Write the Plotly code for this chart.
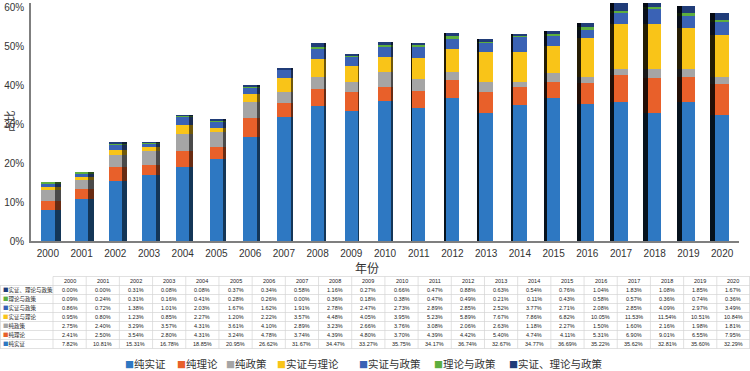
import plotly.graph_objects as go

years = [str(y) for y in range(2000, 2021)]

series_names = ["纯实证", "纯理论", "纯政策", "实证与理论", "实证与政策", "理论与政策", "实证、理论与政策"]

pure_empirical = [7.82, 10.81, 15.31, 16.78, 18.85, 20.95, 26.62, 31.67, 34.47, 33.27, 35.75,
                  34.17, 36.74, 32.67, 34.77, 36.69, 35.22, 35.62, 32.81, 35.60, 32.29]
pure_theory = [2.41, 2.50, 3.54, 2.80, 4.31, 3.24, 4.78, 3.74, 4.39, 4.80, 3.70,
               4.39, 4.42, 5.40, 4.74, 4.11, 5.31, 6.90, 9.01, 6.55, 7.95]
pure_policy = [2.75, 2.40, 3.29, 3.57, 4.31, 3.61, 4.10, 2.89, 3.23, 2.66, 3.76,
               3.08, 2.06, 2.63, 1.18, 2.27, 1.50, 1.60, 2.16, 1.98, 1.81]
emp_theory = [0.95, 0.80, 1.23, 0.85, 2.27, 1.20, 2.22, 3.57, 4.48, 4.05, 3.95,
              5.23, 5.89, 7.67, 7.86, 6.82, 10.05, 11.53, 11.54, 10.51, 10.84]
emp_policy = [0.86, 0.72, 1.38, 1.01, 2.03, 1.67, 1.62, 1.91, 2.78, 2.47, 2.73,
              2.89, 2.85, 2.52, 3.77, 2.71, 2.08, 2.85, 4.09, 2.97, 3.49]
theory_policy = [0.09, 0.24, 0.31, 0.16, 0.41, 0.28, 0.26, 0.00, 0.36, 0.18, 0.38,
                 0.47, 0.49, 0.21, 0.11, 0.43, 0.58, 0.57, 0.36, 0.74, 0.36]
all_three = [0.00, 0.00, 0.31, 0.08, 0.08, 0.37, 0.34, 0.58, 1.16, 0.27, 0.66,
             0.47, 0.88, 0.63, 0.54, 0.76, 1.04, 1.83, 1.08, 1.85, 1.67]

y_ticks = [0, 10, 20, 30, 40, 50, 60]
y_tick_labels = ["0%", "10%", "20%", "30%", "40%", "50%", "60%"]

series_values = [pure_empirical, pure_theory, pure_policy, emp_theory, emp_policy, theory_policy, all_three]
colors = ["#2E78C2", "#E8602A", "#A5A5A5", "#F9C418", "#3A62B5", "#5DAE3E", "#203C78"]

W, H = 750, 371
PLOT_L, PLOT_R = 31, 739
PLOT_TOP_PX, PLOT_BOT_PX = 3.1, 241

def px_x(x):
    return x / W

def px_y(y):
    return (H - y) / H

def darken(hexc, f):
    h = hexc.lstrip("#")
    r, g, b = int(h[0:2], 16), int(h[2:4], 16), int(h[4:6], 16)
    return "rgb(%d,%d,%d)" % (r * f, g * f, b * f)

idx = list(range(len(years)))
cat_px = (PLOT_R - PLOT_L) / len(years)
front_w = 0.40
side_w = [0.6 * abs(i - 10.5) / cat_px for i in idx]
side_off = [front_w / 2 if i <= 10 else -front_w / 2 - side_w[i] for i in idx]

fig = go.Figure()

for name, vals, col in zip(series_names, series_values, colors):
    fig.add_trace(go.Bar(
        x=idx, y=vals, name=name, width=front_w,
        marker=dict(color=col, line=dict(width=0)),
        showlegend=False, xaxis="x", yaxis="y",
        hovertemplate=name + " %{y:.2f}%<extra></extra>",
    ))

for name, vals, col in zip(series_names, series_values, colors):
    shade = [darken(col, 0.45) if i <= 10 else darken(col, 0.15) for i in idx]
    fig.add_trace(go.Bar(
        x=idx, y=vals, name=name, width=side_w, offset=side_off,
        marker=dict(color=shade, line=dict(width=0)),
        showlegend=False, xaxis="x2", yaxis="y", hoverinfo="skip",
    ))

axis_font = dict(family="Liberation Sans", size=10, color="#333333")
fig.update_layout(
    width=W, height=H,
    margin=dict(l=0, r=0, t=0, b=0, autoexpand=False),
    paper_bgcolor="white", plot_bgcolor="white",
    barmode="stack", bargap=0,
    xaxis=dict(domain=[PLOT_L / W, PLOT_R / W], range=[-0.5, len(years) - 0.5],
               tickvals=idx, ticktext=years, tickfont=axis_font, automargin=False,
               showline=True, linecolor="#7F7F7F", linewidth=1.5,
               showgrid=False, zeroline=False, ticks="", ticklen=0, ticklabelstandoff=2),
    xaxis2=dict(domain=[PLOT_L / W, PLOT_R / W], range=[-0.5, len(years) - 0.5],
                overlaying="x", visible=False, automargin=False),
    yaxis=dict(domain=[px_y(PLOT_BOT_PX), px_y(PLOT_TOP_PX)], range=[0, 61],
               tickvals=y_ticks, ticktext=y_tick_labels, automargin=False,
               tickfont=axis_font, showline=True, linecolor="#7F7F7F", linewidth=1.5,
               showgrid=False, zeroline=False, ticks="", ticklen=0, ticklabelstandoff=3),
    showlegend=False,
)

ann = [
    dict(text="年份", x=px_x(367), y=px_y(267), xref="paper", yref="paper",
         xanchor="center", yanchor="middle",
         showarrow=False, font=dict(family="Noto Sans CJK SC", size=12, color="#333333")),
    dict(text="占比", x=px_x(8.5), y=px_y(122), xref="paper", yref="paper", textangle=-90,
         xanchor="center", yanchor="middle", borderpad=0,
         showarrow=False, font=dict(family="Noto Sans CJK SC", size=11, color="#333333")),
]

# legend (drawn as text items)
legend_x = [123, 175, 224, 275, 357, 432, 507]
for k, (name, col) in enumerate(zip(series_names, colors)):
    ann.append(dict(
        text="<span style='color:%s;font-size:9px'>■</span>%s" % (col, name),
        x=px_x(legend_x[k]), y=px_y(363), xref="paper", yref="paper",
        xanchor="left", yanchor="middle", showarrow=False,
        font=dict(family="Noto Sans CJK SC", size=10.5, color="#333333"),
    ))

# data table under the chart
TBL_TOP = 276.5
ROW_H = 9.0
LABEL_W = 53
COL_W = (W - LABEL_W) / len(years)
row_order = list(range(len(series_names)))[::-1]
n_rows = len(row_order) + 1
cell_font = dict(family="Liberation Sans", size=5.5, color="#222222")

for j, yr in enumerate(years):
    ann.append(dict(text=yr, x=px_x(LABEL_W + COL_W * (j + 0.5)), y=px_y(TBL_TOP + ROW_H * 0.5),
                    xref="paper", yref="paper", showarrow=False, font=cell_font,
                    xanchor="center", yanchor="middle"))
for r, k in enumerate(row_order):
    yc = TBL_TOP + ROW_H * (r + 1.5)
    ann.append(dict(
        text="<span style='color:%s'>■</span>%s" % (colors[k], series_names[k]),
        x=px_x(1), y=px_y(yc), xref="paper", yref="paper", showarrow=False,
        xanchor="left", yanchor="middle",
        font=dict(family="Noto Sans CJK SC", size=5.5, color="#222222")))
    for j in idx:
        ann.append(dict(text="%.2f%%" % series_values[k][j],
                        x=px_x(LABEL_W + COL_W * (j + 0.5)), y=px_y(yc),
                        xref="paper", yref="paper", showarrow=False, font=cell_font,
                        xanchor="center", yanchor="middle"))

shapes = []
grid_line = dict(color="#D4D4D4", width=0.7)
for r in range(n_rows + 1):
    yy = px_y(TBL_TOP + ROW_H * r)
    x0 = LABEL_W if r == 0 else 0
    shapes.append(dict(type="line", xref="paper", yref="paper",
                       x0=px_x(x0), x1=1, y0=yy, y1=yy, line=grid_line, layer="below"))
for j in range(len(years) + 1):
    xx = px_x(min(LABEL_W + COL_W * j, W - 0.5))
    shapes.append(dict(type="line", xref="paper", yref="paper",
                       x0=xx, x1=xx, y0=px_y(TBL_TOP), y1=px_y(TBL_TOP + ROW_H * n_rows),
                       line=grid_line, layer="below"))
shapes.append(dict(type="line", xref="paper", yref="paper",
                   x0=px_x(0.5), x1=px_x(0.5), y0=px_y(TBL_TOP + ROW_H),
                   y1=px_y(TBL_TOP + ROW_H * n_rows), line=grid_line, layer="below"))

fig.update_layout(annotations=ann, shapes=shapes)

fig.write_html("out.html", config={"displayModeBar": False},
               post_script="document.body.style.margin='0px';")
